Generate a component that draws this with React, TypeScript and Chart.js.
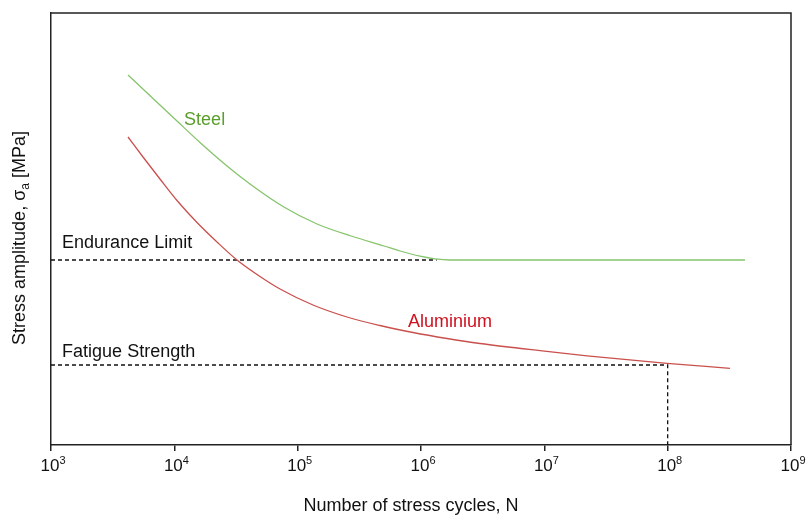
import React, { useEffect, useRef } from "react";
import { Chart, registerables } from "chart.js";

Chart.register(...registerables);

// ---- data ----
const exponents = [3, 4, 5, 6, 7, 8, 9];

const steelCycles = [4210, 6714, 10510, 16150, 26730, 41060, 76030, 143600, 271400, 502300, 675900, 982000, 1299000, 1718000, 4.24e8];
const steelStress = [370, 346.5, 324, 302.5, 279, 261, 238.5, 221, 209, 199, 194, 188.8, 186.1, 185, 185];

const aluCycles = [4210, 5570, 7650, 10510, 15270, 22180, 32220, 49500, 71920, 133100, 251200, 465200, 861400, 1.625e6, 3.009e6, 9.23e6, 2.22e7, 9.88e7, 3.2e8];
const aluStress = [308, 288, 266, 244.5, 222.5, 203, 185, 168.5, 156, 140, 128, 119.5, 112.5, 106.5, 101.5, 94.3, 89.2, 81.7, 76.7];

const enduranceLimit = 185;
const enduranceEndCycles = 1.34e6;
const fatigueStrength = 80;
const fatigueCycles = 1e8;

const labelTexts = ["Steel", "Aluminium", "Endurance Limit", "Fatigue Strength"];
const labelCycles = [1.2e4, 7.85e5, 1.23e3, 1.23e3];
const labelStress = [325, 123, 202, 93];
const labelColors = ["#5a9e2c", "#d0101e", "#111111", "#111111"];

const xTitle = "Number of stress cycles, N";
const yTitleParts = ["Stress amplitude, σ", "a", " [MPa]"];

const FONT = '"Liberation Sans", Arial, Helvetica, sans-serif';

const overlayPlugin = {
  id: "overlay",
  afterDraw(chart: any) {
    const ctx = chart.ctx;
    const area = chart.chartArea;
    const xs = chart.scales.x;
    const ys = chart.scales.y;
    ctx.save();
    // frame top/right
    ctx.strokeStyle = "#222";
    ctx.lineWidth = 1.5;
    ctx.beginPath();
    ctx.moveTo(area.left, area.top);
    ctx.lineTo(area.right, area.top);
    ctx.lineTo(area.right, area.bottom);
    ctx.stroke();

    // tick labels 10^n
    ctx.fillStyle = "#111";
    ctx.textBaseline = "alphabetic";
    ctx.textAlign = "left";
    exponents.forEach((e) => {
      const px = xs.getPixelForValue(Math.pow(10, e));
      ctx.font = `17px ${FONT}`;
      const wBase = ctx.measureText("10").width;
      const start = px - wBase / 2 - 1;
      ctx.fillText("10", start, 471);
      ctx.font = `11px ${FONT}`;
      ctx.fillText(String(e), start + wBase, 464);
    });

    // x title
    ctx.font = `18px ${FONT}`;
    ctx.textAlign = "center";
    ctx.fillText(xTitle, 411, 511);

    // y title (rotated with subscript)
    ctx.save();
    ctx.translate(25, 238);
    ctx.rotate(-Math.PI / 2);
    ctx.textAlign = "left";
    ctx.font = `18px ${FONT}`;
    const w0 = ctx.measureText(yTitleParts[0]).width;
    const w2 = ctx.measureText(yTitleParts[2]).width;
    ctx.font = `12px ${FONT}`;
    const w1 = ctx.measureText(yTitleParts[1]).width;
    let cx = -(w0 + w1 + w2) / 2;
    ctx.font = `18px ${FONT}`;
    ctx.fillText(yTitleParts[0], cx, 0);
    cx += w0;
    ctx.font = `12px ${FONT}`;
    ctx.fillText(yTitleParts[1], cx, 4);
    cx += w1;
    ctx.font = `18px ${FONT}`;
    ctx.fillText(yTitleParts[2], cx, 0);
    ctx.restore();

    // annotations
    ctx.font = `18px ${FONT}`;
    ctx.textAlign = "left";
    ctx.textBaseline = "middle";
    labelTexts.forEach((t, i) => {
      ctx.fillStyle = labelColors[i];
      ctx.fillText(t, xs.getPixelForValue(labelCycles[i]), ys.getPixelForValue(labelStress[i]));
    });
    ctx.restore();
  },
};

export default function App() {
  const ref = useRef<HTMLCanvasElement>(null);
  useEffect(() => {
    document.body.style.margin = "0";
    const canvas = ref.current!;
    const chart = new Chart(canvas, {
      type: "line",
      data: {
        datasets: [
          {
            label: "Steel",
            data: steelCycles.map((x, i) => ({ x, y: steelStress[i] })),
            borderColor: "#86c46c",
            borderWidth: 1.3,
            pointRadius: 0,
            cubicInterpolationMode: "monotone",
          },
          {
            label: "Aluminium",
            data: aluCycles.map((x, i) => ({ x, y: aluStress[i] })),
            borderColor: "#c9504c",
            borderWidth: 1.3,
            pointRadius: 0,
            cubicInterpolationMode: "monotone",
          },
          {
            label: "Endurance Limit",
            data: [
              { x: Math.pow(10, exponents[0]), y: enduranceLimit },
              { x: enduranceEndCycles, y: enduranceLimit },
            ],
            borderColor: "#111",
            borderWidth: 1.3,
            borderDash: [4, 3],
            pointRadius: 0,
            tension: 0,
          },
          {
            label: "Fatigue Strength",
            data: [
              { x: Math.pow(10, exponents[0]), y: fatigueStrength },
              { x: fatigueCycles, y: fatigueStrength },
              { x: fatigueCycles, y: 0 },
            ],
            borderColor: "#111",
            borderWidth: 1.3,
            borderDash: [4, 3],
            pointRadius: 0,
            tension: 0,
          },
        ],
      } as any,
      options: {
        animation: false,
        responsive: false,
        devicePixelRatio: 1,
        layout: { padding: { top: 13, right: 15, left: 0, bottom: 0 } },
        plugins: { legend: { display: false }, tooltip: { enabled: false } },
        scales: {
          x: {
            type: "logarithmic",
            min: Math.pow(10, exponents[0]),
            max: Math.pow(10, exponents[exponents.length - 1]),
            afterBuildTicks: (axis: any) => {
              axis.ticks = exponents.map((e) => ({ value: Math.pow(10, e) }));
            },
            afterFit: (s: any) => {
              s.height = 71;
            },
            ticks: { display: false },
            grid: { display: true, drawOnChartArea: false, drawTicks: true, tickLength: 6, color: "#222", lineWidth: 1.5 },
            border: { display: true, color: "#222", width: 1.5 },
          },
          y: {
            type: "linear",
            min: 0,
            max: 432,
            afterFit: (s: any) => {
              s.width = 51;
            },
            ticks: { display: false },
            grid: { display: false },
            border: { display: true, color: "#222", width: 1.5 },
          },
        },
      } as any,
      plugins: [overlayPlugin],
    });
    return () => chart.destroy();
  }, []);
  return (
    <div style={{ width: 806, height: 516, background: "#fff" }}>
      <canvas ref={ref} width={806} height={516} />
    </div>
  );
}
